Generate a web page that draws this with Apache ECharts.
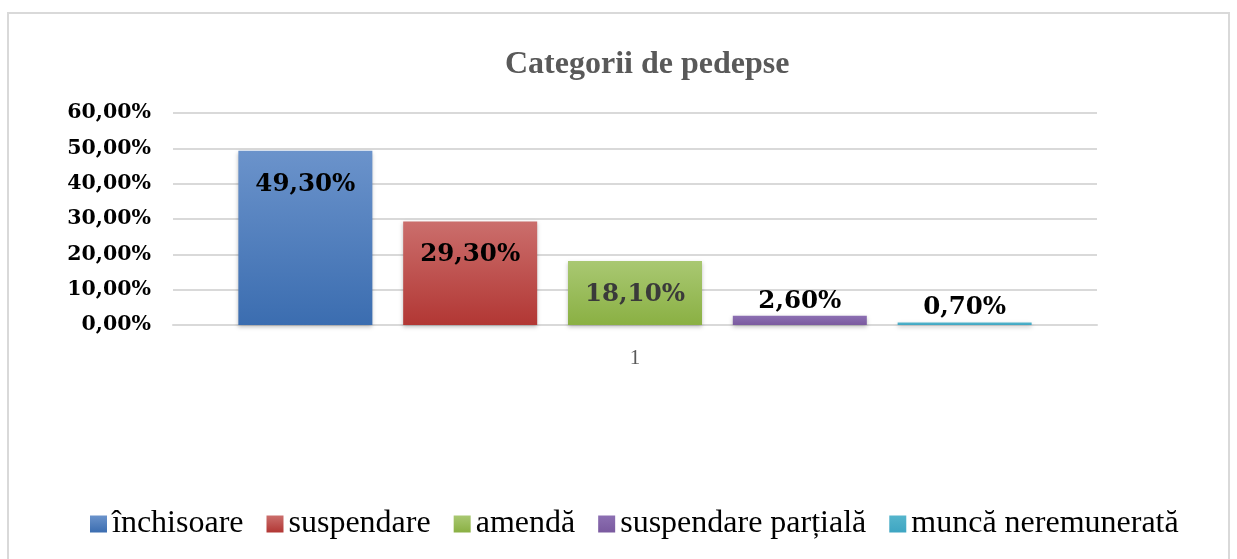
<!DOCTYPE html>
<html>
<head>
<meta charset="utf-8">
<script src="https://cdn.jsdelivr.net/npm/echarts@6/dist/echarts.min.js"></script>
<style>
    html, body { margin: 0; padding: 0; background: #fff; }
    #frame {
        position: absolute; left: 7px; top: 12px; width: 1223px; height: 600px;
        border: 2px solid #d9d9d9; box-sizing: border-box;
    }
    #chart { position: absolute; left: 0; top: 0; width: 1237px; height: 559px; }
</style>
</head>
<body>
<div id="frame"></div>
<div id="chart"></div>
<script>
// date din grafic
const categories = ['1'];
const seriesNames = ['închisoare', 'suspendare', 'amendă', 'suspendare parțială', 'muncă neremunerată'];
const seriesValues = [49.3, 29.3, 18.1, 2.6, 0.7];
const yTicks = [0, 10, 20, 30, 40, 50, 60];

const colorsTop = ['#6b93cb', '#cb6e6c', '#a9c872', '#8c6fb2', '#55b5cc'];
const colorsBottom = ['#3b6db0', '#b23734', '#8ab043', '#7a5a9f', '#3ea5c2'];

function fmt(v) {
    return v.toFixed(2).replace('.', ',') + '%';
}

let series = seriesNames.map((name, i) => {
    let big = seriesValues[i] > 10;
    return {
        name: name,
        type: 'bar',
        barWidth: 134,
        barGap: '23%',
        data: [seriesValues[i]],
        itemStyle: {
            color: new echarts.graphic.LinearGradient(0, 0, 0, 1, [
                {offset: 0, color: colorsTop[i]},
                {offset: 1, color: colorsBottom[i]}
            ]),
            shadowColor: 'rgba(0,0,0,0.25)',
            shadowBlur: 4,
            shadowOffsetY: 2
        },
        label: {
            show: true,
            position: big ? 'insideTop' : 'top',
            distance: big ? 21 : 2,
            formatter: p => fmt(p.value),
            fontFamily: 'DejaVu Serif',
            fontWeight: 'bold',
            fontSize: 24.5,
            color: i === 2 ? '#3a3a3a' : '#000'
        }
    };
});

let option = {
    animation: false,
    title: {
        text: 'Categorii de pedepse',
        left: 500,
        top: 44,
        textStyle: {
            fontFamily: 'Liberation Serif',
            fontWeight: 'bold',
            fontSize: 32,
            color: '#595959'
        }
    },
    legend: {
        bottom: 14,
        left: 85,
        itemWidth: 17,
        itemHeight: 17,
        itemGap: 23,
        icon: 'rect',
        textStyle: {
            fontFamily: 'Liberation Serif',
            fontSize: 32,
            color: '#000'
        }
    },
    grid: {
        left: 173,
        right: 140,
        top: 113,
        bottom: 234
    },
    xAxis: {
        type: 'category',
        data: categories,
        axisTick: {show: false},
        axisLine: {lineStyle: {color: '#d9d9d9', width: 2}},
        axisLabel: {
            margin: 23,
            fontFamily: 'Liberation Serif',
            fontSize: 21,
            color: '#595959'
        }
    },
    yAxis: {
        type: 'value',
        min: yTicks[0],
        max: yTicks[yTicks.length - 1],
        interval: 10,
        axisLine: {show: false},
        axisTick: {show: false},
        splitLine: {lineStyle: {color: '#d9d9d9', width: 2}},
        axisLabel: {
            margin: 22,
            formatter: v => fmt(v),
            fontFamily: 'DejaVu Serif',
            fontWeight: 'bold',
            fontSize: 20.5,
            color: '#000'
        }
    },
    series: series
};

let chart = echarts.init(document.getElementById('chart'));
chart.setOption(option);
</script>
</body>
</html>
